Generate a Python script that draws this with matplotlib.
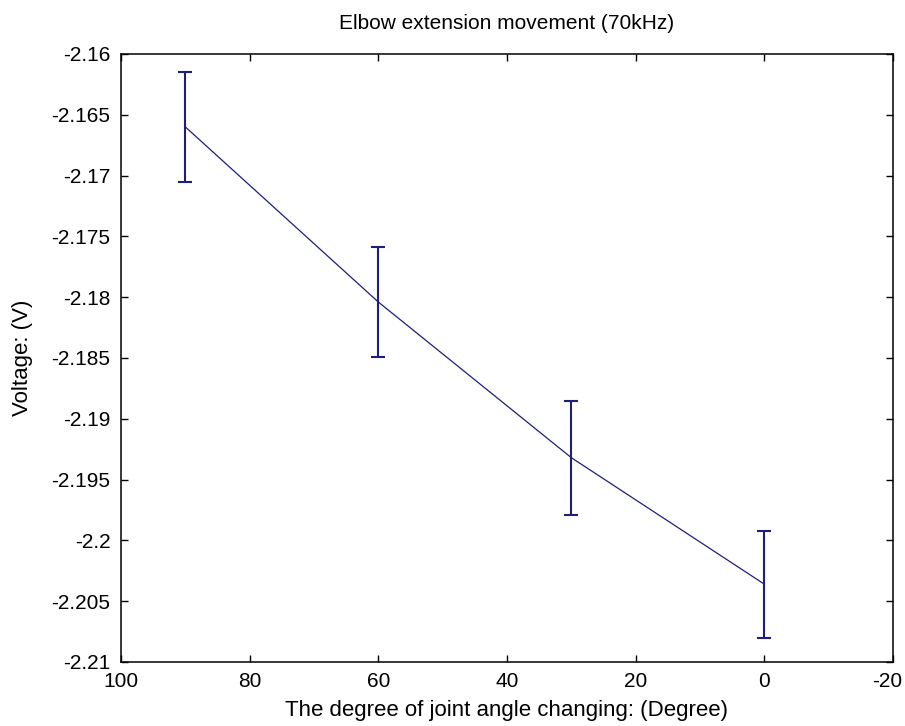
import numpy as np
import matplotlib.pyplot as plt
import matplotlib.transforms as mtransforms
from matplotlib.ticker import FuncFormatter

# values
angles = [90, 60, 30, 0]
voltage = [-2.1660, -2.1804, -2.1932, -2.2036]
voltage_err = [0.0045, 0.0045, 0.0047, 0.0044]

x_ticks = [100, 80, 60, 40, 20, 0, -20]
y_ticks = [-2.16, -2.165, -2.17, -2.175, -2.18, -2.185, -2.19, -2.195, -2.2, -2.205, -2.21]

plt.rcParams['font.family'] = ['Liberation Sans', 'DejaVu Sans']

fig = plt.figure(figsize=(9.05, 7.26), dpi=100)
ax = fig.add_axes([0.1337, 0.0882, 0.8530, 0.8375])

navy = '#1e1e7c'
ax.errorbar(angles, voltage, yerr=voltage_err, color=navy, ecolor=navy,
            elinewidth=1.5, capsize=5, capthick=1.5, linewidth=0.9)

ax.set_xlim(100, -20)
ax.set_ylim(-2.21, -2.16)
ax.set_xticks(x_ticks)
ax.set_yticks(y_ticks)
ax.yaxis.set_major_formatter(FuncFormatter(lambda v, p: '%g' % round(v, 4)))
ax.xaxis.set_major_formatter(FuncFormatter(lambda v, p: '%g' % v))

ax.tick_params(direction='in', length=5, width=1, top=True, right=True,
               labelsize=15, pad=7.5, colors='black')
for s in ax.spines.values():
    s.set_linewidth(1.1)

ax.set_title('Elbow extension movement (70kHz)', fontsize=15, pad=18)
ax.set_xlabel('The degree of joint angle changing: (Degree)', fontsize=16)
ax.set_ylabel('Voltage: (V)', fontsize=16)
ax.xaxis.set_label_coords(0.5, -0.062)
ax.yaxis.set_label_coords(-0.114, 0.5)

# keep the last x tick label inside the figure, as in the reference
fig.canvas.draw()
last = ax.get_xticklabels()[-1]
last.set_transform(last.get_transform() +
                   mtransforms.ScaledTranslation(-6 / 100, 0, fig.dpi_scale_trans))

fig.savefig('out.png', dpi=100, facecolor='white')
